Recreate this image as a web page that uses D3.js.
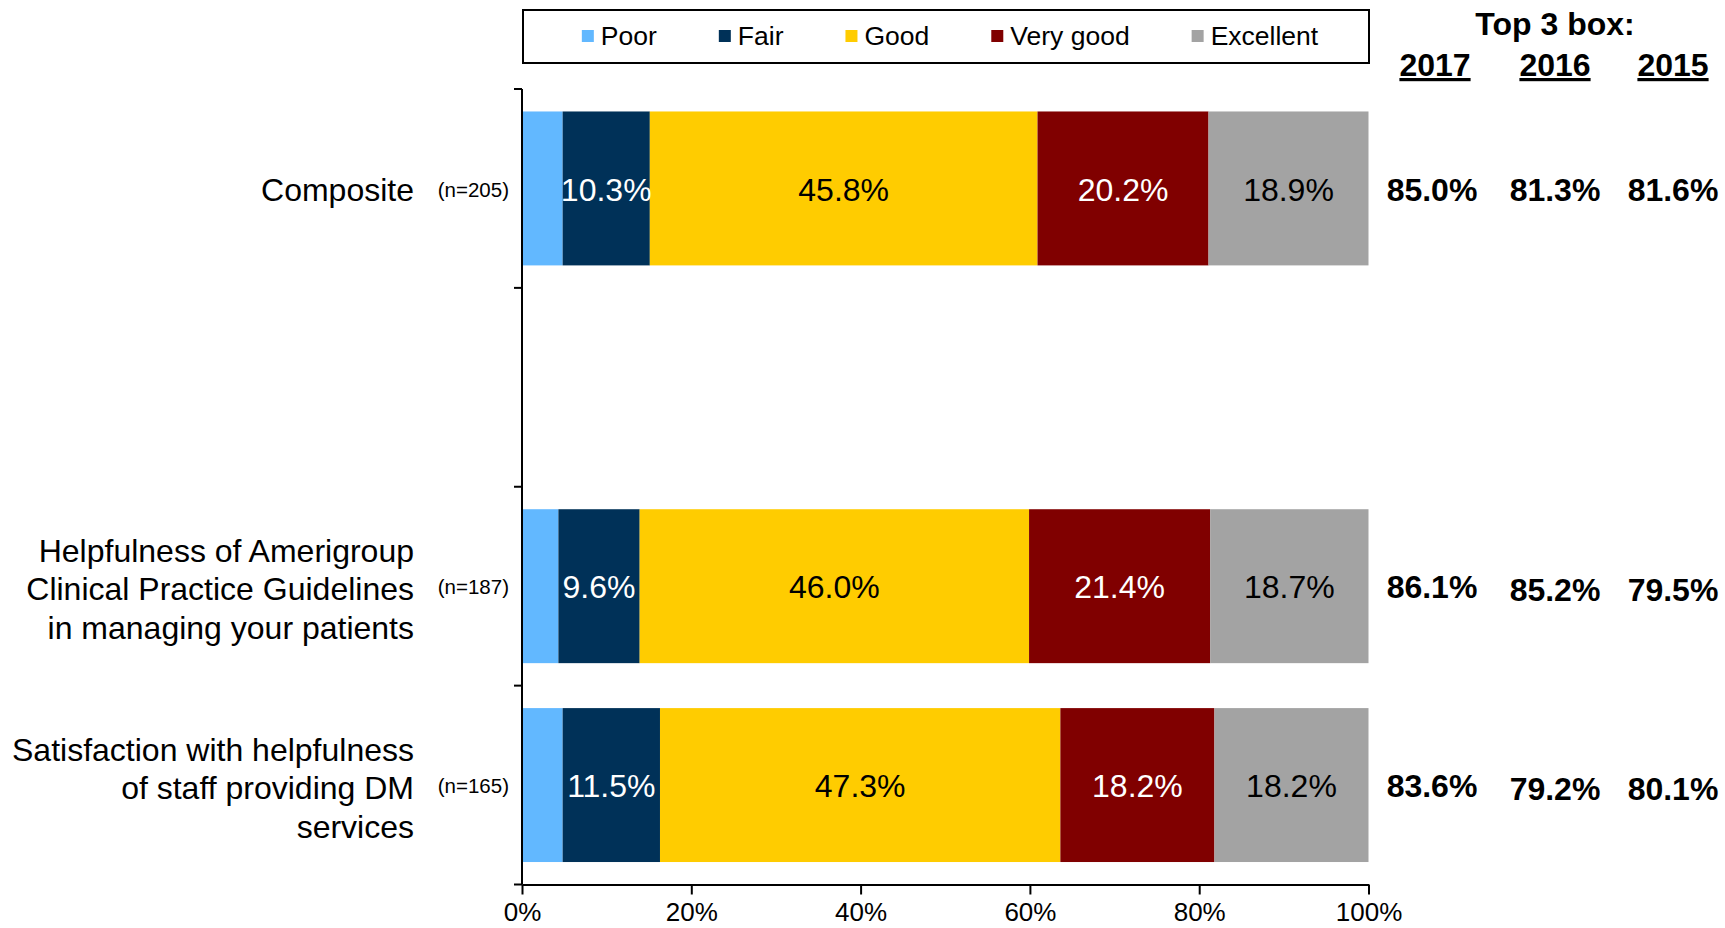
<!DOCTYPE html>
<html>
<head>
<meta charset="utf-8">
<script src="https://cdn.jsdelivr.net/npm/d3@7"></script>
<style>
  html, body { margin: 0; padding: 0; background: #fff; }
  svg { display: block; font-family: "Liberation Sans", Arial, sans-serif; }
</style>
</head>
<body>
<svg id="chart" width="1725" height="928"></svg>
<script>
// Rating categories (row labels, top to bottom)
const categories = [
  "Composite",
  "Helpfulness of Amerigroup\nClinical Practice Guidelines\nin managing your patients",
  "Satisfaction with helpfulness\nof staff providing DM\nservices"
];
const sampleSizes = ["(n=205)", "(n=187)", "(n=165)"];

// Response shares per category (%)
const seriesNames = ["Poor", "Fair", "Good", "Very good", "Excellent"];
const poor      = [4.8, 4.3, 4.8];
const fair      = [10.3, 9.6, 11.5];
const good      = [45.8, 46.0, 47.3];
const veryGood  = [20.2, 21.4, 18.2];
const excellent = [18.9, 18.7, 18.2];

// Top 3 box scores by year
const years = ["2017", "2016", "2015"];
const top3_2017 = [85.0, 86.1, 83.6];
const top3_2016 = [81.3, 85.2, 79.2];
const top3_2015 = [81.6, 79.5, 80.1];

const xTicks = [0, 20, 40, 60, 80, 100];

const colors = ["#62b8ff", "#003158", "#ffcc00", "#800000", "#a3a3a3"];
const labelColors = [null, "#ffffff", "#000000", "#ffffff", "#000000"];

const svg = d3.select("#chart");

const plotLeft = 522, plotRight = 1368.5, plotTop = 89, plotBottom = 884.5;
const mainFont = 32;

// Row slots: a blank slot separates the composite from the individual items
const rowSlots = [categories[0], "", categories[1], categories[2]];

const x = d3.scaleLinear().domain([0, 100]).range([plotLeft, plotRight]);
const y = d3.scaleBand().domain(d3.range(rowSlots.length))
  .range([plotTop, plotBottom]).paddingInner(0.226).paddingOuter(0.113);

const seriesValues = [poor, fair, good, veryGood, excellent];
const rows = categories.map((c, i) => {
  const r = { category: c, slot: rowSlots.indexOf(c) };
  seriesNames.forEach((s, k) => r[s] = seriesValues[k][i]);
  return r;
});
const stacked = d3.stack().keys(seriesNames)(rows);

// Stacked bars
const layers = svg.append("g").selectAll("g").data(stacked).join("g")
  .attr("fill", (d, k) => colors[k]);
layers.selectAll("rect").data(d => d).join("rect")
  .attr("x", d => x(d[0]))
  .attr("y", d => y(d.data.slot))
  .attr("width", d => x(d[1]) - x(d[0]))
  .attr("height", y.bandwidth());

// Segment value labels (Poor is left unlabeled)
stacked.forEach((layer, k) => {
  if (k === 0) return;
  svg.append("g").selectAll("text").data(layer).join("text")
    .attr("x", d => (x(d[0]) + x(d[1])) / 2)
    .attr("y", d => y(d.data.slot) + y.bandwidth() / 2 + 1)
    .attr("dy", "0.35em")
    .attr("text-anchor", "middle")
    .attr("font-size", mainFont)
    .attr("fill", labelColors[k])
    .text(d => (d[1] - d[0]).toFixed(1) + "%");
});

// Y axis: line with ticks at slot boundaries
const yAxisG = svg.append("g");
yAxisG.append("line")
  .attr("x1", plotLeft).attr("x2", plotLeft)
  .attr("y1", plotTop).attr("y2", plotBottom)
  .attr("stroke", "#000").attr("stroke-width", 2);
yAxisG.selectAll("line.tick").data(d3.range(rowSlots.length + 1)).join("line")
  .attr("class", "tick")
  .attr("x1", plotLeft - 8).attr("x2", plotLeft)
  .attr("y1", i => plotTop + i * y.step())
  .attr("y2", i => plotTop + i * y.step())
  .attr("stroke", "#000").attr("stroke-width", 2);

// X axis
const xAxis = d3.axisBottom(x).tickValues(xTicks).tickFormat(d => d + "%")
  .tickSizeInner(10).tickSizeOuter(0).tickPadding(8);
const xAxisG = svg.append("g").attr("transform", `translate(0,${plotBottom})`).call(xAxis);
xAxisG.select(".domain").attr("stroke", "#000").attr("stroke-width", 2);
xAxisG.selectAll(".tick line").attr("stroke", "#000").attr("stroke-width", 2);
xAxisG.selectAll(".tick text")
  .attr("font-family", "'Liberation Sans', Arial, sans-serif")
  .attr("font-size", 26).attr("fill", "#000");

// Category labels (multi-line, right aligned)
const lineHeight = 38.5;
rows.forEach(r => {
  const lines = r.category.split("\n");
  const cy = y(r.slot) + y.bandwidth() / 2 + (lines.length > 1 ? 3 : 1);
  const t = svg.append("text")
    .attr("text-anchor", "end")
    .attr("font-size", mainFont)
    .attr("fill", "#000");
  lines.forEach((ln, j) => {
    t.append("tspan")
      .attr("x", 414)
      .attr("y", cy + (j - (lines.length - 1) / 2) * lineHeight)
      .attr("dy", "0.35em")
      .text(ln);
  });
});

// Sample sizes
svg.append("g").selectAll("text").data(rows).join("text")
  .attr("x", 509)
  .attr("y", d => y(d.slot) + y.bandwidth() / 2 + 1)
  .attr("dy", "0.35em")
  .attr("text-anchor", "end")
  .attr("font-size", 20.5)
  .attr("fill", "#000")
  .text((d, i) => sampleSizes[i]);

// Legend
const legendG = svg.append("g");
legendG.append("rect")
  .attr("x", 523).attr("y", 10)
  .attr("width", 846).attr("height", 53)
  .attr("fill", "#fff").attr("stroke", "#000").attr("stroke-width", 2);
const items = legendG.selectAll("g.item").data(seriesNames).join("g").attr("class", "item");
items.append("rect")
  .attr("width", 12).attr("height", 12)
  .attr("y", 30)
  .attr("fill", (d, k) => colors[k]);
items.append("text")
  .attr("x", 19).attr("y", 36).attr("dy", "0.35em")
  .attr("font-size", 26.5).attr("fill", "#000")
  .text(d => d);
const gap = 62;
const widths = [];
items.each(function () { widths.push(19 + d3.select(this).select("text").node().getComputedTextLength()); });
const total = d3.sum(widths) + gap * (widths.length - 1);
let cursor = 523 + (846 - total) / 2 + 4;
items.attr("transform", (d, k) => {
  const tx = cursor;
  cursor += widths[k] + gap;
  return `translate(${tx},0)`;
});

// Top 3 box header and values
const colCenters = [1432, 1555, 1673];
svg.append("text")
  .attr("x", 1555).attr("y", 35)
  .attr("text-anchor", "middle")
  .attr("font-size", mainFont).attr("font-weight", "bold").attr("fill", "#000")
  .text("Top 3 box:");
svg.append("g").selectAll("text").data(years).join("text")
  .attr("x", (d, i) => colCenters[i] + (i === 0 ? 3 : 0)).attr("y", 76)
  .attr("text-anchor", "middle")
  .attr("font-size", mainFont).attr("font-weight", "bold").attr("fill", "#000")
  .attr("text-decoration", "underline")
  .text(d => d);

const top3 = [top3_2017, top3_2016, top3_2015];
top3.forEach((vals, c) => {
  svg.append("g").selectAll("text").data(rows).join("text")
    .attr("x", colCenters[c])
    .attr("y", (d, i) => y(d.slot) + y.bandwidth() / 2 + (c > 0 && i > 0 ? 4 : 1))
    .attr("dy", "0.35em")
    .attr("text-anchor", "middle")
    .attr("font-size", mainFont).attr("font-weight", "bold").attr("fill", "#000")
    .text((d, i) => vals[i].toFixed(1) + "%");
});
</script>
</body>
</html>
